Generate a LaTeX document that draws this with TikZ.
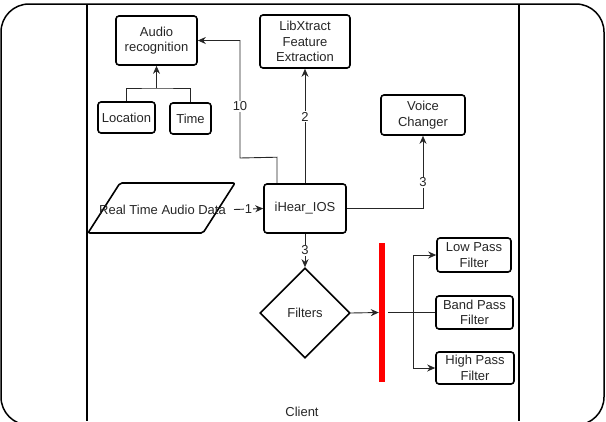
\documentclass[tikz,border=0pt]{standalone}
\usepackage{fontspec}
\setmainfont{Liberation Sans}
\usetikzlibrary{shapes.geometric,arrows.meta}
\begin{document}
\begin{tikzpicture}[x=1pt,y=-1pt,
  every node/.style={font=\fontsize{13}{15.5}\selectfont, text=black!85},
  box/.style={draw, line width=1.6pt, rounded corners=3pt, align=center, inner sep=0pt},
  conn/.style={line width=0.9pt, draw=black!85, -{Stealth[length=8pt,width=7pt]}},
  plain/.style={line width=0.9pt, draw=black!85},
  lbl/.style={fill=white, inner sep=1pt},
  lane/.style={line width=1.5pt}]
\useasboundingbox (0,0) rectangle (606,421);
\begin{scope}
\clip (0,0) rectangle (606,421);
\draw[lane, rounded corners=28pt] (1,4) rectangle (604,425);
\end{scope}
\draw[lane] (87,4) -- (87,421);
\draw[lane] (519,4) -- (519,421);

% nodes
\node[box, minimum width=81pt, minimum height=49pt] (ar) at (156.5,40.5) {Audio\\recognition};
\node[box, minimum width=57pt, minimum height=31pt] (loc) at (126.5,117.5) {Location};
\node[box, minimum width=41pt, minimum height=31pt] (time) at (190.5,118.5) {Time};
\node[box, minimum width=90pt, minimum height=53pt] (lib) at (305,41.5) {LibXtract\\Feature\\Extraction};
\node[box, minimum width=84pt, minimum height=40pt] (vc) at (423,115) {Voice\\Changer};
\node[box, minimum width=82pt, minimum height=49pt] (ihear) at (305,208.5) {iHear\_IOS};
\draw[line width=1.6pt, rounded corners=2pt] (88,233) -- (120,183) -- (235,183) -- (203,233) -- cycle;
\node (rt) at (162.5,209.5) {Real Time Audio Data};
\coordinate (rtR) at (234,209.5);
\node[draw, diamond, line width=1.6pt, minimum width=90pt, minimum height=90pt, inner sep=0pt] (filt) at (305,313) {Filters};
\node[fill=red, inner sep=0pt, minimum width=6pt, minimum height=139pt] (bar) at (382,312.5) {};
\node[box, minimum width=74pt, minimum height=34pt] (low) at (474,255) {Low Pass\\Filter};
\node[box, minimum width=77pt, minimum height=33pt] (band) at (474.5,312.5) {Band Pass\\Filter};
\node[box, minimum width=78pt, minimum height=32pt] (high) at (475,368) {High Pass\\Filter};
\node (client) at (302,412) {Client};

% connectors
\coordinate (tj) at (156.5,88);
\draw[plain] (loc.north) |- (tj) -| (time.north);
\draw[conn] (tj) -- (ar.south);
\draw[conn] ([xshift=-28pt]ihear.north) -- ++(0,-26) -- (240,158) -- node[lbl, pos=0.44]{10} (240,40.5) -- (ar.east);
\draw[conn] (ihear.north) -- node[lbl, pos=0.58]{2} (lib.south);
\draw[conn] (ihear.east) -| node[lbl, pos=0.68]{3} (vc.south);
\draw[conn] (rtR) -- node[lbl]{1} (ihear.west);
\draw[conn] (ihear.south) -- node[lbl]{3} (filt.north);
\draw[conn] (filt.east) -- (bar.west);
\draw[plain] ([xshift=3pt]bar.east) -- (band.west);
\coordinate (br) at (413,312.5);
\draw[conn] (br) |- (low.west);
\draw[conn] (br) |- (high.west);
\end{tikzpicture}
\end{document}
